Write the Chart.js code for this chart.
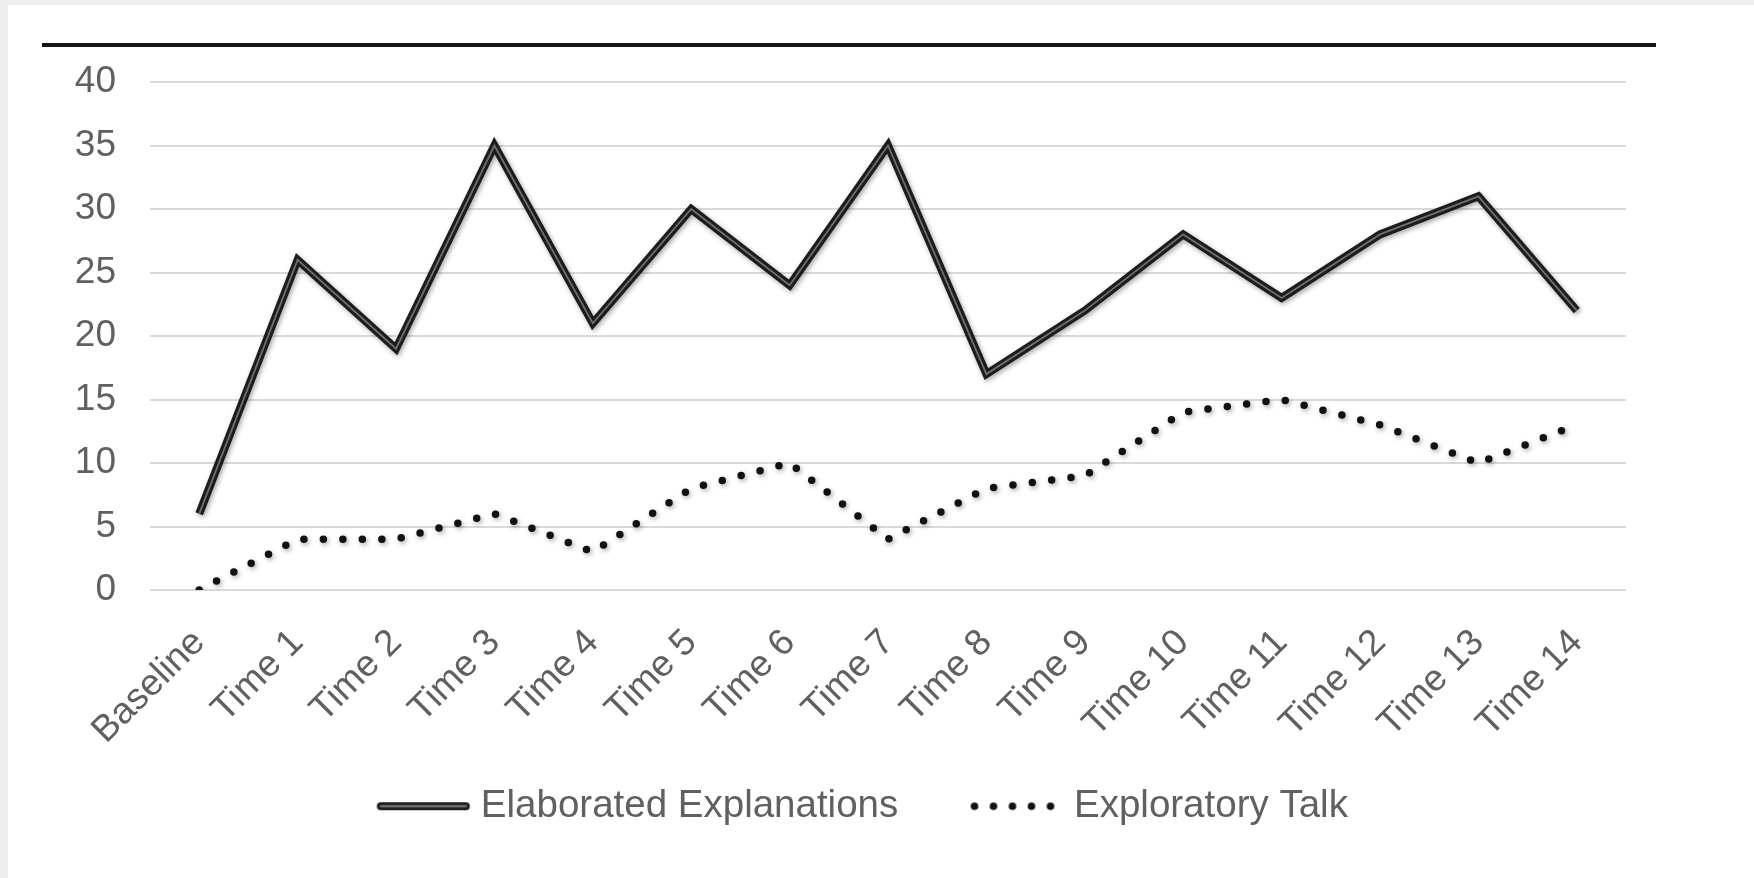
<!DOCTYPE html>
<html>
<head>
<meta charset="utf-8">
<script src="https://cdn.jsdelivr.net/npm/chart.js@4.4.1/dist/chart.umd.min.js"></script>
<style>
  html, body { margin: 0; padding: 0; background: #ffffff; }
  #wrap { width: 1754px; height: 878px; }
</style>
</head>
<body>
<div id="wrap"><canvas id="chart" width="1754" height="878"></canvas></div>
<script>
// Categories along the x axis
const categories = ['Baseline', 'Time 1', 'Time 2', 'Time 3', 'Time 4', 'Time 5', 'Time 6', 'Time 7',
  'Time 8', 'Time 9', 'Time 10', 'Time 11', 'Time 12', 'Time 13', 'Time 14'];

// Series values
const elaborated = [6, 26, 19, 35, 21, 30, 24, 35, 17, 22, 28, 23, 28, 31, 22];
const exploratory = [0, 4, 4, 6, 3, 8, 10, 4, 8, 9, 14, 15, 13, 10, 13];

// Series names
const seriesNames = ['Elaborated Explanations', 'Exploratory Talk'];

// Value axis range and step
const yMin = 0;
const yMax = 40;
const yStep = 5;

const TEXT = '#606060';
const FONT = '"Liberation Sans", Arial, sans-serif';

// Legend swatches: a double line and a row of dots (left side kept transparent
// so the visible mark sits close to its label)
function makeDoubleLineSwatch() {
  const c = document.createElement('canvas');
  c.width = 144; c.height = 14;
  const g = c.getContext('2d');
  g.lineCap = 'round';
  g.strokeStyle = '#1c1c1c'; g.lineWidth = 8;
  g.beginPath(); g.moveTo(53.5, 7); g.lineTo(138.5, 7); g.stroke();
  g.strokeStyle = '#707070'; g.lineWidth = 2.5;
  g.beginPath(); g.moveTo(53.5, 7); g.lineTo(138.5, 7); g.stroke();
  return c;
}
function makeDotSwatch() {
  const c = document.createElement('canvas');
  c.width = 144; c.height = 14;
  const g = c.getContext('2d');
  g.fillStyle = '#111111';
  for (let i = 0; i < 5; i++) {
    g.beginPath(); g.arc(54 + i * 19, 7, 3.8, 0, Math.PI * 2); g.fill();
  }
  return c;
}
const swatches = [makeDoubleLineSwatch(), makeDotSwatch()];

// Page frame and the heavy rule across the top
const framePlugin = {
  id: 'frame',
  beforeDraw(chart) {
    const ctx = chart.ctx;
    ctx.save();
    ctx.fillStyle = '#eeeeee';
    ctx.fillRect(0, 0, chart.width, chart.height);
    ctx.fillStyle = '#ffffff';
    ctx.fillRect(8, 5, chart.width - 8, chart.height - 5);
    ctx.restore();
  },
  afterDraw(chart) {
    const ctx = chart.ctx;
    ctx.save();
    ctx.strokeStyle = '#151515';
    ctx.lineWidth = 4;
    ctx.beginPath();
    ctx.moveTo(42, 45);
    ctx.lineTo(1656, 45);
    ctx.stroke();
    ctx.restore();
  }
};

// Soft shadow under the series lines, and the light core of the double line
const lineStylePlugin = {
  id: 'lineStyle',
  beforeDatasetsDraw(chart) {
    const ctx = chart.ctx;
    ctx.save();
    ctx.shadowColor = 'rgba(0,0,0,0.35)';
    ctx.shadowBlur = 5;
    ctx.shadowOffsetX = 1.5;
    ctx.shadowOffsetY = 2;
  },
  afterDatasetsDraw(chart) {
    const ctx = chart.ctx;
    ctx.restore();
    const pts = chart.getDatasetMeta(0).data;
    ctx.save();
    ctx.strokeStyle = '#6e6e6e';
    ctx.lineWidth = 1.8;
    ctx.lineJoin = 'miter';
    ctx.beginPath();
    pts.forEach((p, i) => { if (i === 0) ctx.moveTo(p.x, p.y); else ctx.lineTo(p.x, p.y); });
    ctx.stroke();
    ctx.restore();
  }
};

new Chart(document.getElementById('chart'), {
  type: 'line',
  data: {
    labels: categories,
    datasets: [
      {
        label: seriesNames[0],
        data: elaborated,
        borderColor: '#1c1c1c',
        borderWidth: 8,
        borderJoinStyle: 'miter',
        borderCapStyle: 'butt',
        pointRadius: 0,
        tension: 0,
        fill: false
      },
      {
        label: seriesNames[1],
        data: exploratory,
        borderColor: '#111111',
        borderWidth: 7.5,
        borderDash: [0, 19.5],
        borderCapStyle: 'round',
        pointRadius: 0,
        tension: 0,
        fill: false
      }
    ]
  },
  options: {
    responsive: false,
    animation: false,
    layout: { padding: { left: 8, right: 77, top: 82, bottom: 42.5 } },
    plugins: {
      tooltip: { enabled: false },
      legend: {
        position: 'bottom',
        align: 'center',
        labels: {
          usePointStyle: true,
          pointStyleWidth: 124.5,
          padding: 32,
          color: TEXT,
          font: { family: FONT, size: 38.5 },
          generateLabels(chart) {
            const items = Chart.defaults.plugins.legend.labels.generateLabels(chart);
            items.forEach((it, i) => { it.pointStyle = swatches[i]; it.fontColor = TEXT; });
            return items;
          }
        }
      }
    },
    scales: {
      x: {
        offset: true,
        grid: { display: false, drawTicks: false },
        border: { display: false },
        ticks: {
          autoSkip: false,
          maxRotation: 45,
          minRotation: 45,
          padding: 31,
          color: TEXT,
          font: { family: FONT, size: 37 }
        },
        afterFit(scale) {
          scale.height = 165;
          scale.paddingLeft = 0;
          scale.paddingRight = 128;
        }
      },
      y: {
        min: yMin,
        max: yMax,
        grid: { color: '#d9d9d9', lineWidth: 2, drawTicks: false },
        border: { display: false },
        ticks: {
          stepSize: yStep,
          padding: 34,
          color: TEXT,
          font: { family: FONT, size: 37 }
        },
        afterFit(scale) {
          scale.width = 142;
        }
      }
    }
  },
  plugins: [framePlugin, lineStylePlugin]
});
</script>
</body>
</html>
